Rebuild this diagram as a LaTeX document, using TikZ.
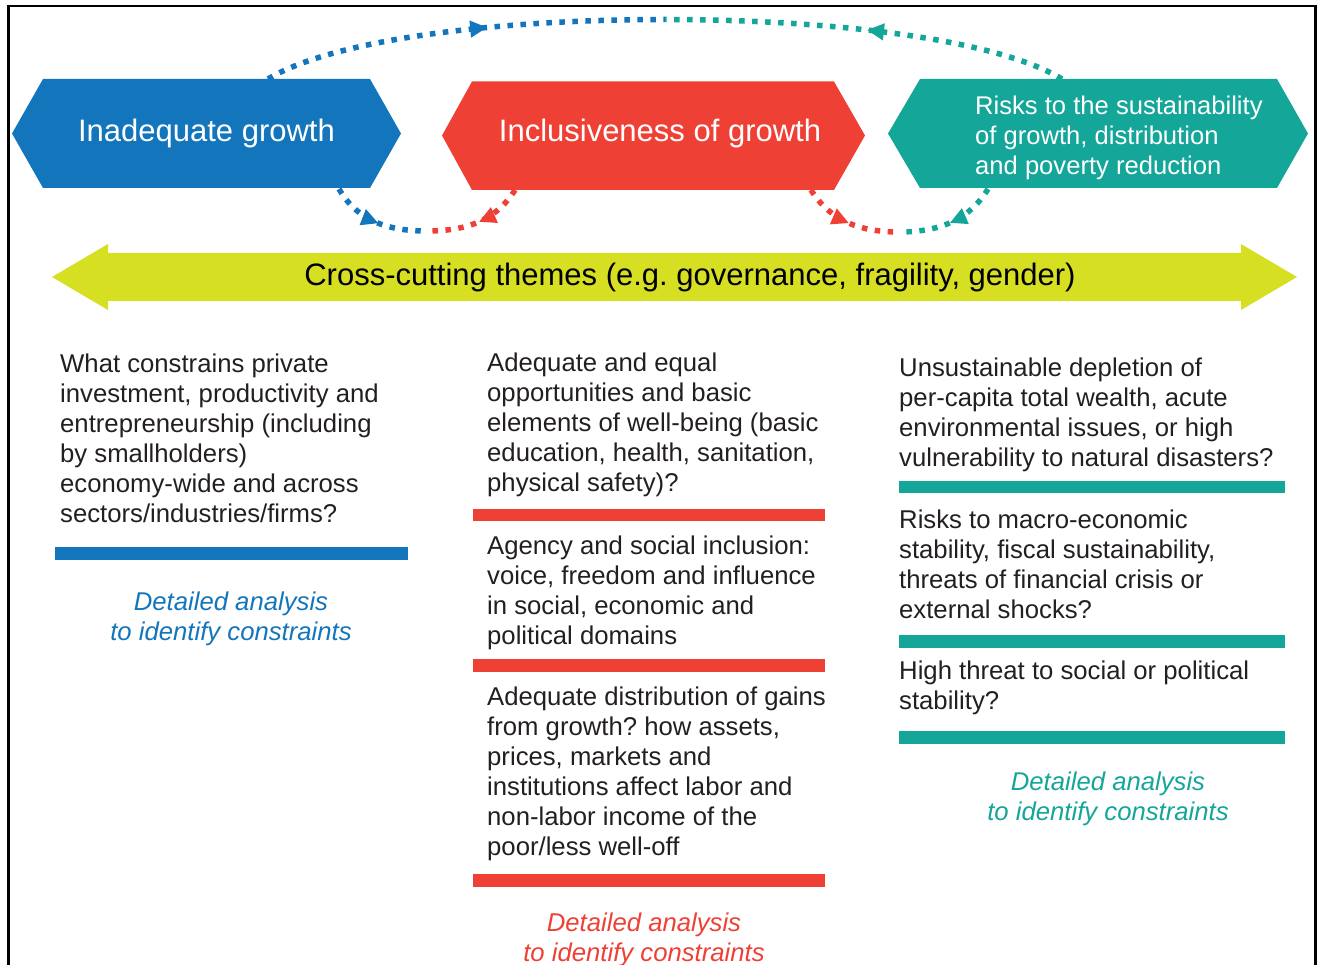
\documentclass[tikz,border=0pt]{standalone}
\usepackage{fontspec}
\setmainfont{Liberation Sans}
\usetikzlibrary{arrows.meta,decorations.markings}
\frenchspacing

\definecolor{gblue}{RGB}{19,117,188}
\definecolor{gred}{RGB}{239,64,54}
\definecolor{gteal}{RGB}{20,166,152}
\definecolor{glime}{RGB}{215,223,35}
\definecolor{ink}{RGB}{35,31,32}

% multi-line nodes are placed by the baseline of their last line
\tikzset{
  link/.style={line width=5.5pt, dash pattern=on 5.5pt off 7.5pt},
  tipat/.style={postaction={decorate}, decoration={markings,
      mark=at position #1 with {\arrow{Triangle[length=17pt,width=16pt]}}}},
  body/.style={anchor=base west, align=left, inner sep=0pt, text=ink,
      font=\fontsize{25.7}{30}\selectfont},
  hextext/.style={text=white, inner sep=0pt, font=\fontsize{31}{36}\selectfont},
  note/.style={anchor=base, align=center, inner sep=0pt,
      font=\fontsize{25.7}{30}\selectfont\itshape},
}

\begin{document}
\begin{tikzpicture}[x=1pt,y=-1pt]
\useasboundingbox (0,0) rectangle (1318,965);

% outer frame, open at the bottom
\draw[line width=2.5pt] (8.5,1000) -- (8.5,6) -- (1315.5,6) -- (1315.5,1000);

% three hexagon banners
\fill[gblue] (12,133.5) -- (43,79) -- (370,79) -- (401,133.5) -- (370,188) -- (43,188) -- cycle;
\fill[gred]  (442,135.5) -- (472,81.5) -- (834,81.5) -- (865,135.5) -- (834,190) -- (472,190) -- cycle;
\fill[gteal] (888,133.5) -- (920,79) -- (1277,79) -- (1308,133.5) -- (1277,188) -- (920,188) -- cycle;

\node[hextext] (inad) at (206.5,133) {Inadequate growth};
\node[hextext] (incl) at (660,133) {Inclusiveness of growth};
\node[hextext, anchor=base west, align=left, font=\fontsize{25.6}{30}\selectfont]
  (risk) at (975,175) {Risks to the sustainability\\of growth, distribution\\and poverty reduction};

% attachment points of the dotted links
\coordinate (bTop) at (268,79);
\coordinate (tTop) at (1062,79);
\coordinate (mTop) at (665,19.5);
\coordinate (bBot) at (339,189);
\coordinate (rBotL) at (515,190);
\coordinate (mBotL) at (427,231);
\coordinate (rBotR) at (811,190);
\coordinate (tBot) at (988,189);
\coordinate (mBotR) at (899,232);

% dotted links between the banners
\draw[link, gblue, tipat=0.56] (bTop) .. controls (334,39) and (499.5,19.5) .. (mTop);
\draw[link, gteal, tipat=0.5] (tTop) .. controls (996,39) and (830.5,19.5) .. (mTop);
\draw[link, gblue, tipat=0.52] (bBot) .. controls (358,222) and (390,231) .. (mBotL);
\draw[link, gred, tipat=0.48] (rBotL) .. controls (495,222) and (464,231) .. (mBotL);
\draw[link, gred, tipat=0.5] (rBotR) .. controls (831,222) and (862,232) .. (mBotR);
\draw[link, gteal, tipat=0.5] (tBot) .. controls (968,222) and (936,232) .. (mBotR);

% cross-cutting double arrow
\fill[glime] (52,277) -- (108,244) -- (108,253) -- (1241,253) -- (1241,244) -- (1297,277)
  -- (1241,310) -- (1241,301) -- (108,301) -- (108,310) -- cycle;
\node[inner sep=0pt, text=black, font=\fontsize{31}{36}\selectfont] (cross) at (690,277)
  {Cross-cutting themes (e.g. governance, fragility, gender)};

% left column
\node[body] (q1) at (60,522) {What constrains private\\investment, productivity and\\entrepreneurship (including\\by smallholders)\\economy-wide and across\\sectors/industries/firms?};
\fill[gblue] (55,547) rectangle (408,560);
\node[note, text=gblue] (d1) at (231,640) {Detailed analysis\\to identify constraints};

% middle column
\node[body] (q2) at (487,492) {Adequate and equal\\opportunities and basic\\elements of well-being (basic\\education, health, sanitation,\\physical safety)?};
\fill[gred] (473,509) rectangle (825,521);
\node[body] (q3) at (487,644) {Agency and social inclusion:\\voice, freedom and influence\\in social, economic and\\political domains};
\fill[gred] (473,659) rectangle (825,672);
\node[body] (q4) at (487,855) {Adequate distribution of gains\\from growth? how assets,\\prices, markets and\\institutions affect labor and\\non-labor income of the\\poor/less well-off};
\fill[gred] (473,874) rectangle (825,887);
\node[note, text=gred] (d2) at (644,961) {Detailed analysis\\to identify constraints};

% right column
\node[body] (q5) at (899,467) {Unsustainable depletion of\\per-capita total wealth, acute\\environmental issues, or high\\vulnerability to natural disasters?};
\fill[gteal] (899,481) rectangle (1285,493);
\node[body] (q6) at (899,618) {Risks to macro-economic\\stability, fiscal sustainability,\\threats of financial crisis or\\external shocks?};
\fill[gteal] (899,635) rectangle (1285,648);
\node[body] (q7) at (899,709) {High threat to social or political\\stability?};
\fill[gteal] (899,731) rectangle (1285,744);
\node[note, text=gteal] (d3) at (1108,820) {Detailed analysis\\to identify constraints};

\end{tikzpicture}
\end{document}
